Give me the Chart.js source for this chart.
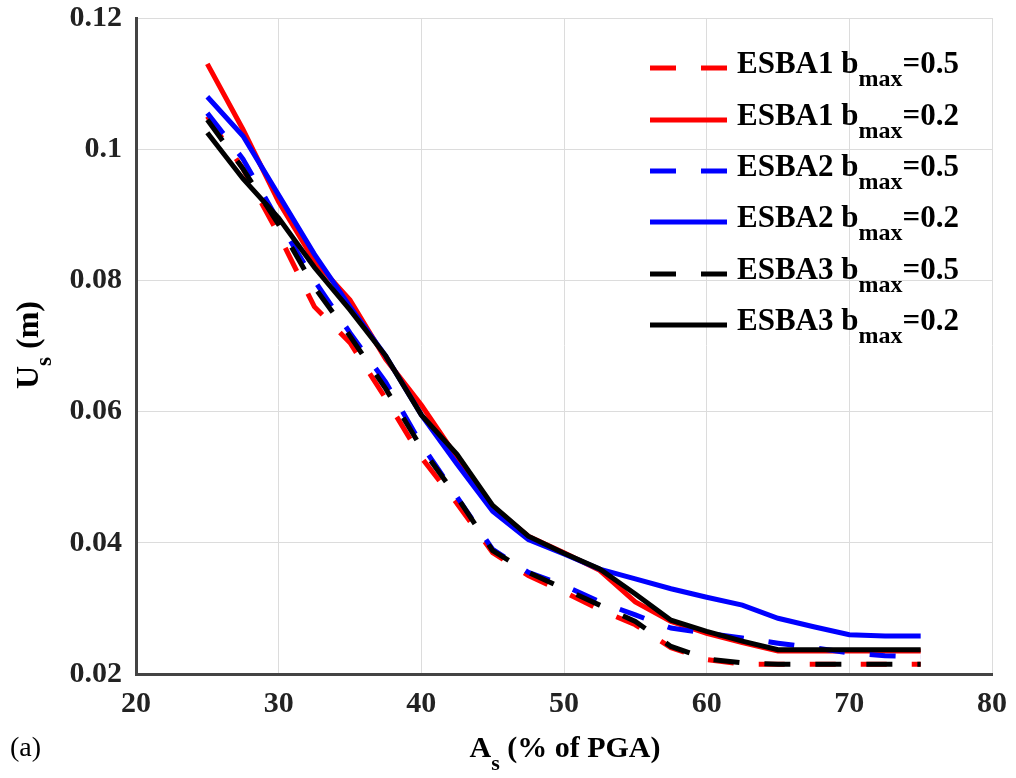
<!DOCTYPE html>
<html>
<head>
  <title>Us vs As</title>
  <script src="https://cdn.jsdelivr.net/npm/chart.js"></script>
  <style>
    body {
        margin: 0;
        background-color: white;
    }
    canvas {
        display: block;
    }
  </style>
</head>
<body>
    <canvas id="myChart" width="1016" height="778"></canvas>

    <script>
        // A_s (% of PGA) values, one every 2.5 %
        const asValues = [25, 27.5, 30, 32.5, 35, 37.5, 40, 42.5, 45, 47.5, 50,
                          52.5, 55, 57.5, 60, 62.5, 65, 67.5, 70, 72.5, 75];

        // U_s (m)
        const esba1b05 = [0.105, 0.097, 0.087, 0.076, 0.0705, 0.062, 0.053, 0.046, 0.0385, 0.035, 0.0325,
                          0.0298, 0.0275, 0.024, 0.0222, 0.0215, 0.0215, 0.0215, 0.0215, 0.0215, 0.0215];
        const esba1b02 = [0.113, 0.103, 0.092, 0.083, 0.077, 0.068, 0.061, 0.053, 0.0455, 0.041, 0.0385,
                          0.0358, 0.031, 0.028, 0.0262, 0.0248, 0.0235, 0.0235, 0.0235, 0.0235, 0.0235];
        const esba2b05 = [0.1055, 0.0985, 0.089, 0.080, 0.072, 0.0645, 0.055, 0.047, 0.039, 0.0355, 0.0335,
                          0.031, 0.029, 0.027, 0.0262, 0.0255, 0.0247, 0.024, 0.0232, 0.0228, 0.0226];
        const esba2b02 = [0.108, 0.102, 0.093, 0.084, 0.076, 0.0685, 0.0595, 0.052, 0.0448, 0.0405, 0.0383,
                          0.036, 0.0345, 0.033, 0.0317, 0.0305, 0.0285, 0.0272, 0.026, 0.0258, 0.0258];
        const esba3b05 = [0.1045, 0.097, 0.0885, 0.079, 0.0715, 0.0635, 0.0545, 0.047, 0.0388, 0.0355, 0.033,
                          0.0305, 0.028, 0.0242, 0.0223, 0.0217, 0.0215, 0.0215, 0.0215, 0.0215, 0.0215];
        const esba3b02 = [0.1025, 0.0955, 0.0895, 0.082, 0.0755, 0.0685, 0.0595, 0.0535, 0.0457, 0.041, 0.0384,
                          0.036, 0.0322, 0.0282, 0.0265, 0.025, 0.0237, 0.0237, 0.0237, 0.0237, 0.0237];

        const seriesNames = ['ESBA1', 'ESBA1', 'ESBA2', 'ESBA2', 'ESBA3', 'ESBA3'];
        const bmaxLabels = ['=0.5', '=0.2', '=0.5', '=0.2', '=0.5', '=0.2'];
        const seriesValues = [esba1b05, esba1b02, esba2b05, esba2b02, esba3b05, esba3b02];
        const seriesColors = ['#ff0000', '#ff0000', '#0000ff', '#0000ff', '#000000', '#000000'];
        const dashed = [true, false, true, false, true, false];

        const serif = '"Liberation Serif", "DejaVu Serif", serif';
        const dashPattern = [26, 25];

        function toPoints(vals) {
            return asValues.map((x, i) => ({ x: x, y: vals[i] }));
        }

        const datasets = seriesValues.map((vals, i) => ({
            label: seriesNames[i] + ' bmax' + bmaxLabels[i],
            data: toPoints(vals),
            borderColor: seriesColors[i],
            borderWidth: 5,
            borderDash: dashed[i] ? dashPattern : [],
            borderCapStyle: 'butt',
            pointRadius: 0,
            tension: 0,
            fill: false,
            order: 3 - Math.floor(i / 2)
        }));

        // text with a subscript part, drawn at the current origin
        function drawSub(ctx, x, y, main, sub, rest, mainSize, subSize, subDrop) {
            ctx.font = 'bold ' + mainSize + 'px ' + serif;
            ctx.fillText(main, x, y);
            x += ctx.measureText(main).width;
            ctx.font = 'bold ' + subSize + 'px ' + serif;
            ctx.fillText(sub, x, y + subDrop);
            x += ctx.measureText(sub).width;
            ctx.font = 'bold ' + mainSize + 'px ' + serif;
            ctx.fillText(rest, x, y);
        }

        function subWidth(ctx, main, sub, rest, mainSize, subSize) {
            ctx.font = 'bold ' + mainSize + 'px ' + serif;
            let w = ctx.measureText(main).width + ctx.measureText(rest).width;
            ctx.font = 'bold ' + subSize + 'px ' + serif;
            return w + ctx.measureText(sub).width;
        }

        const extras = {
            id: 'extras',
            afterDraw(chart) {
                const ctx = chart.ctx;
                ctx.save();
                ctx.fillStyle = '#000';
                ctx.textBaseline = 'alphabetic';
                ctx.textAlign = 'left';

                // legend
                const rowY = [68, 120, 171, 222, 274, 325];
                chart.data.datasets.forEach((ds, i) => {
                    const y = rowY[i];
                    ctx.beginPath();
                    ctx.strokeStyle = ds.borderColor;
                    ctx.lineWidth = 5;
                    ctx.lineCap = 'butt';
                    ctx.setLineDash(ds.borderDash);
                    ctx.moveTo(650, y);
                    ctx.lineTo(727, y);
                    ctx.stroke();
                    ctx.setLineDash([]);
                    drawSub(ctx, 737, y + 5, seriesNames[i] + ' b', 'max', bmaxLabels[i], 31, 24, 13);
                });

                // x axis title
                const xw = subWidth(ctx, 'A', 's', ' (% of PGA)', 30, 22);
                drawSub(ctx, 565 - xw / 2, 757, 'A', 's', ' (% of PGA)', 30, 22, 13);

                // y axis title
                ctx.save();
                ctx.translate(38, 345);
                ctx.rotate(-Math.PI / 2);
                const yw = subWidth(ctx, 'U', 's', ' (m)', 32, 23);
                drawSub(ctx, -yw / 2, 0, 'U', 's', ' (m)', 32, 23, 13);
                ctx.restore();

                // panel label
                ctx.font = '28px ' + serif;
                ctx.fillText('(a)', 10, 756);
                ctx.restore();
            }
        };

        const ctx = document.getElementById('myChart').getContext('2d');
        const myChart = new Chart(ctx, {
            type: 'line',
            data: { datasets: datasets },
            plugins: [extras],
            options: {
                responsive: false,
                animation: false,
                layout: { padding: { top: 18, right: 24, left: 0, bottom: 0 } },
                plugins: {
                    legend: { display: false },
                    tooltip: { enabled: false }
                },
                scales: {
                    x: {
                        type: 'linear',
                        min: 20,
                        max: 80,
                        ticks: {
                            stepSize: 10,
                            padding: 12,
                            color: '#222',
                            font: { family: serif, size: 30, weight: 'bold' }
                        },
                        grid: { color: '#dcdcdc', lineWidth: 1, drawTicks: false },
                        border: { display: true, color: '#444', width: 3 },
                        afterFit(scale) {
                            scale.height = 104;
                            scale.paddingLeft = 0;
                            scale.paddingRight = 0;
                        }
                    },
                    y: {
                        min: 0.02,
                        max: 0.12,
                        ticks: {
                            stepSize: 0.02,
                            padding: 14,
                            color: '#222',
                            font: { family: serif, size: 30, weight: 'bold' },
                            callback: v => Number(v.toFixed(2)).toString()
                        },
                        grid: { color: '#dcdcdc', lineWidth: 1, drawTicks: false },
                        border: { display: true, color: '#444', width: 3 },
                        afterFit(scale) {
                            scale.width = 136;
                            scale.paddingTop = 0;
                            scale.paddingBottom = 0;
                        }
                    }
                }
            }
        });
    </script>
</body>
</html>
